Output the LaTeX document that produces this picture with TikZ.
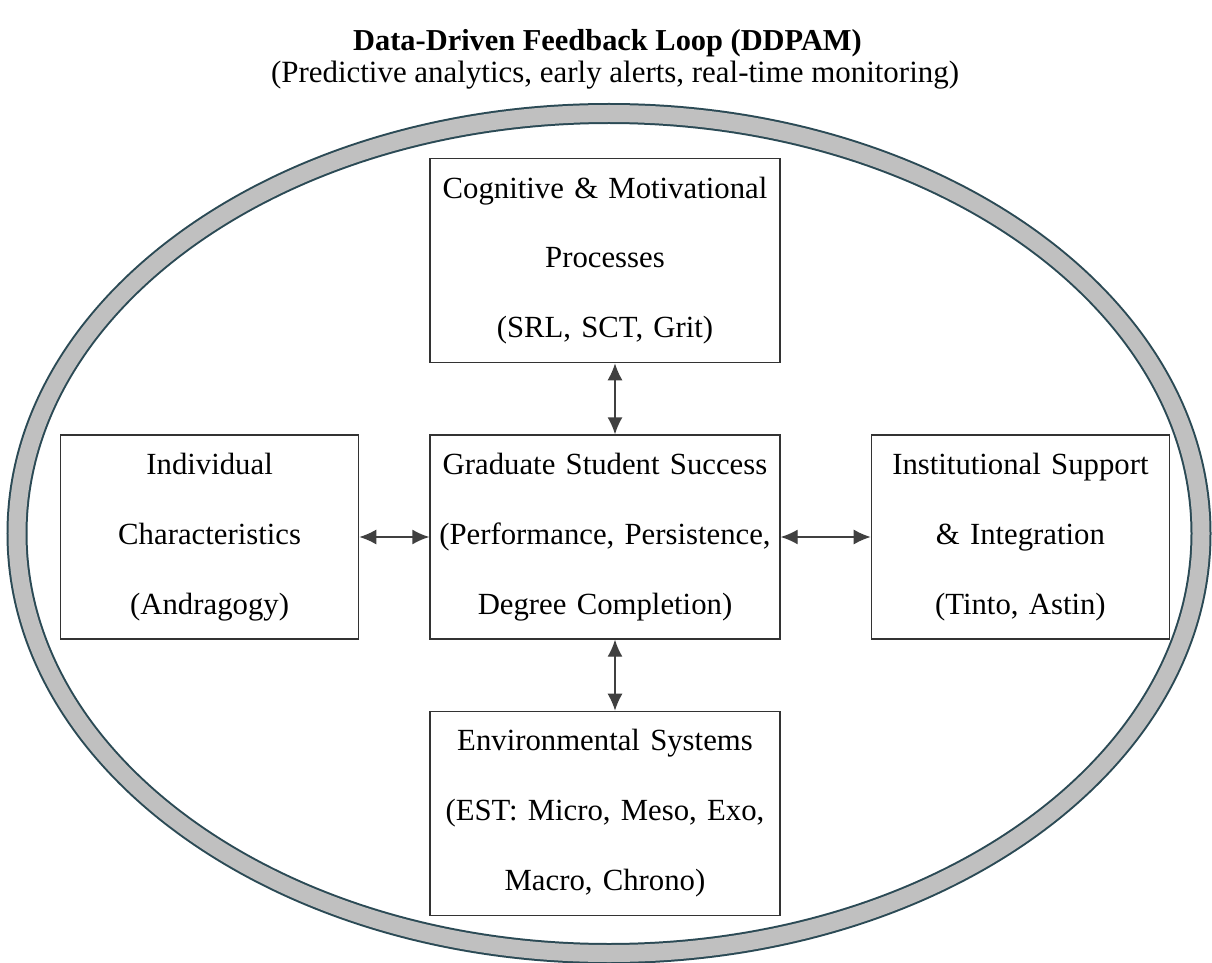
\documentclass[tikz,border=0pt]{standalone}
\usepackage{fontspec}
\setmainfont{Liberation Serif}
\usetikzlibrary{positioning,arrows.meta}

\definecolor{ringline}{HTML}{2B4A55}
\definecolor{ringfill}{HTML}{C0C0C0}

\begin{document}
\begin{tikzpicture}[
    box/.style={draw=black!80, line width=0.8pt, align=center,
      minimum height=4.08cm, inner sep=0pt,
      font=\fontsize{17.5}{39.8}\selectfont},
    wide/.style={box, minimum width=7cm, text width=6.9cm},
    side/.style={box, minimum width=5.96cm, text width=5.9cm},
    link/.style={black!75, line width=0.8pt,
      {Latex[length=0.34cm,width=0.3cm]}-{Latex[length=0.34cm,width=0.3cm]}}
  ]
  \useasboundingbox (0,0) rectangle (24.24,-19.26);

  % feedback ring
  \draw[ringline, line width=0.42cm] (12.18,-10.67) ellipse [x radius=11.84cm, y radius=8.4cm];
  \draw[ringfill, line width=0.34cm] (12.18,-10.67) ellipse [x radius=11.84cm, y radius=8.4cm];

  \node[font=\fontsize{17.3}{20}\selectfont\bfseries] (title) at (12.15,-0.86)
    {Data-Driven Feedback Loop (DDPAM)};
  \node[font=\fontsize{17.6}{20}\selectfont] (subtitle) at (12.3,-1.51)
    {(Predictive analytics, early alerts, real-time monitoring)};

  \node[wide] (success) at (12.1,-10.74)
    {Graduate Student Success\\(Performance, Persistence,\\Degree Completion)};
  \node[wide, above=1.42cm of success] (cognitive)
    {Cognitive \& Motivational\\Processes\\(SRL, SCT, Grit)};
  \node[wide, below=1.42cm of success] (environment)
    {Environmental Systems\\(EST: Micro, Meso, Exo,\\Macro, Chrono)};
  \node[side, left=1.4cm of success] (individual)
    {Individual\\Characteristics\\(Andragogy)};
  \node[side, right=1.8cm of success] (institution)
    {Institutional Support\\\& Integration\\(Tinto, Astin)};

  \draw[link] ([xshift=0.2cm]success.north) -- ([xshift=0.2cm]cognitive.south);
  \draw[link] ([xshift=0.2cm]success.south) -- ([xshift=0.2cm]environment.north);
  \draw[link] (individual) -- (success);
  \draw[link] (success) -- (institution);
\end{tikzpicture}
\end{document}
